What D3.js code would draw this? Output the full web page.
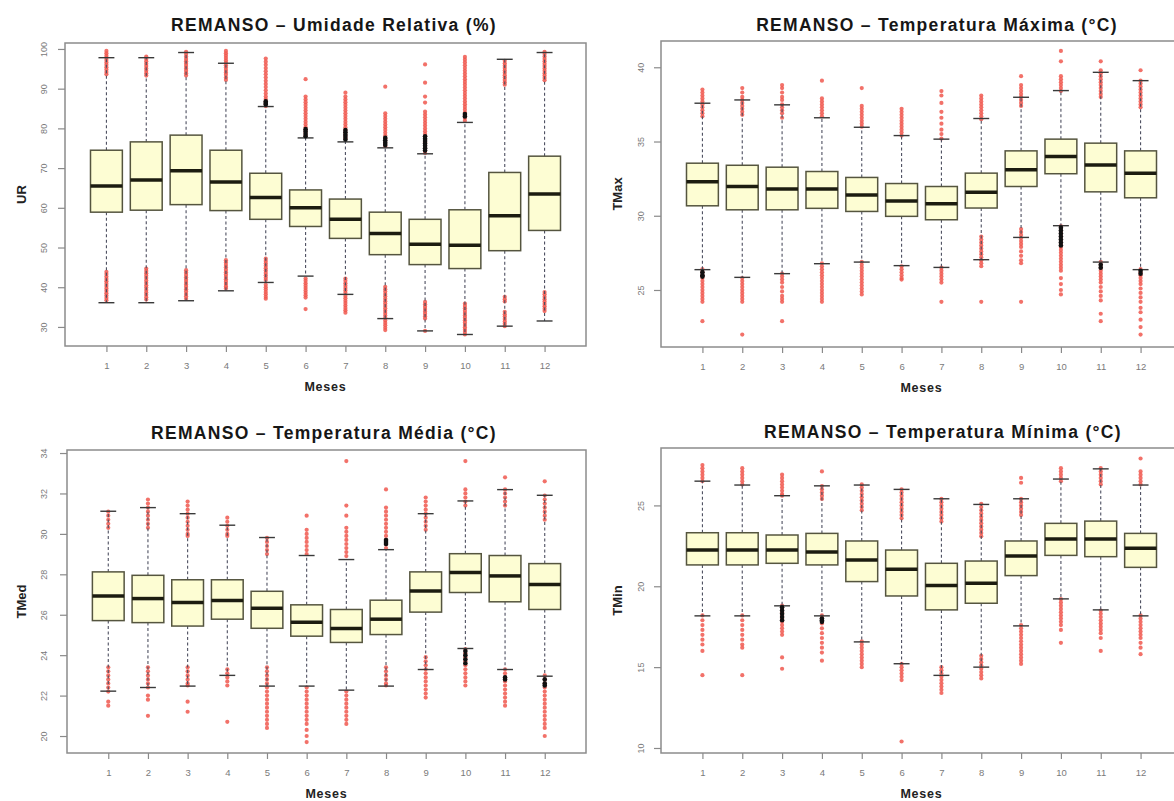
<!DOCTYPE html>
<html>
<head>
<meta charset="utf-8">
<script src="https://cdn.jsdelivr.net/npm/d3@7"></script>
<style>
  body { margin: 0; background: #ffffff; }
  svg { display: block; }
</style>
</head>
<body>
<svg id="chart" width="1174" height="801"></svg>
<script>
// ---------------- DATA ----------------
const months = [1, 2, 3, 4, 5, 6, 7, 8, 9, 10, 11, 12];

const titles = [
  "REMANSO – Umidade Relativa (%)",
  "REMANSO – Temperatura Máxima (°C)",
  "REMANSO – Temperatura Média (°C)",
  "REMANSO – Temperatura Mínima (°C)"
];
const yLabels = ["UR", "TMax", "TMed", "TMin"];
const xLabel = "Meses";

const urTicks = [30, 40, 50, 60, 70, 80, 90, 100];
const tmaxTicks = [25, 30, 35, 40];
const tmedTicks = [20, 22, 24, 26, 28, 30, 32, 34];
const tminTicks = [10, 15, 20, 25];

// UR
const urLo  = [36.1, 36.1, 36.6, 39.1, 41.2, 42.8, 38.2, 32.1, 29.0, 28.1, 30.2, 31.5];
const urQ1  = [58.9, 59.4, 60.8, 59.3, 57.1, 55.3, 52.3, 48.2, 45.7, 44.7, 49.2, 54.3];
const urMed = [65.5, 67.0, 69.3, 66.5, 62.6, 60.0, 57.1, 53.5, 50.8, 50.6, 58.0, 63.5];
const urQ3  = [74.5, 76.6, 78.3, 74.5, 68.7, 64.5, 62.2, 58.9, 57.1, 59.5, 68.9, 73.0];
const urHi  = [97.8, 97.8, 99.1, 96.4, 85.5, 77.6, 76.6, 75.1, 73.6, 81.5, 97.4, 99.1];
const urOut = [
  [99.5, 98.9, 98.3, 97.8, 97.2, 96.6, 96.0, 95.4, 94.8, 94.2, 93.6, 43.9, 43.3, 42.7, 42.1, 41.5, 40.9, 40.3, 39.7, 39.1, 38.5, 37.9, 37.3, 36.7],
  [98.1, 97.5, 96.9, 96.3, 95.7, 95.1, 94.5, 93.9, 93.3, 44.7, 44.1, 43.5, 42.9, 42.3, 41.7, 41.1, 40.5, 39.9, 39.3, 38.7, 38.1, 37.5, 36.9],
  [99.3, 98.7, 98.1, 97.5, 96.9, 96.3, 95.7, 95.1, 94.5, 93.9, 93.3, 44.3, 43.7, 43.1, 42.5, 41.9, 41.3, 40.7, 40.1, 39.5, 38.9, 38.3, 37.7, 37.1],
  [99.5, 98.9, 98.3, 97.7, 97.1, 96.5, 95.9, 95.3, 94.7, 94.1, 93.5, 92.8, 92.2, 46.8, 46.2, 45.6, 45.0, 44.4, 43.8, 43.2, 42.6, 42.0, 41.4, 40.8, 40.2, 39.7],
  [97.6, 96.8, 96.0, 95.2, 94.4, 93.6, 92.8, 92.0, 91.2, 90.4, 89.6, 88.8, 88.0, 87.4, 86.8, 86.2, 85.6, 47.2, 46.6, 46.0, 45.4, 44.8, 44.2, 43.6, 43.0, 42.4, 41.8, 40.6, 40.0, 39.4, 38.8, 38.2, 37.6, 37.1],
  [92.4, 88.0, 87.3, 86.6, 85.9, 85.2, 84.5, 83.8, 83.1, 82.4, 81.7, 81.0, 80.3, 79.6, 78.9, 78.2, 42.2, 41.6, 41.0, 40.4, 39.8, 39.2, 38.6, 38.0, 37.4, 34.5],
  [89.0, 88.0, 87.3, 86.6, 85.9, 85.2, 84.5, 83.8, 83.1, 82.4, 81.7, 81.0, 80.3, 79.6, 78.9, 78.2, 77.5, 42.2, 41.6, 41.0, 40.4, 39.8, 39.2, 38.6, 37.8, 37.2, 36.6, 36.0, 35.4, 34.8, 34.2, 33.6],
  [90.5, 83.8, 83.1, 82.4, 81.7, 81.0, 80.3, 79.6, 78.9, 78.2, 77.5, 76.8, 76.1, 75.5, 40.1, 39.5, 38.9, 38.3, 37.7, 37.1, 36.5, 35.9, 35.3, 34.7, 34.1, 33.5, 32.9, 32.3, 31.6, 31.0, 30.4, 29.8, 29.2],
  [96.1, 91.5, 88.0, 86.5, 84.2, 83.5, 82.8, 82.1, 81.4, 80.7, 80.0, 79.3, 78.6, 77.9, 77.2, 76.5, 75.8, 75.1, 74.4, 73.8, 36.3, 35.7, 35.1, 34.5, 33.9, 33.3, 32.7, 32.1, 29.0],
  [98.0, 97.3, 96.6, 95.9, 95.2, 94.5, 93.8, 93.1, 92.4, 91.7, 91.0, 90.3, 89.6, 88.9, 88.2, 87.5, 86.8, 86.1, 85.4, 84.7, 84.0, 83.3, 82.6, 81.9, 35.9, 35.3, 34.7, 34.1, 33.5, 32.9, 32.3, 31.7, 31.1, 30.5, 29.9, 29.3, 28.7, 28.1],
  [97.0, 96.4, 95.8, 95.2, 94.6, 94.0, 93.4, 92.8, 92.2, 91.6, 91.0, 37.6, 37.0, 36.4, 33.8, 33.2, 32.6, 32.0, 31.4, 30.8, 30.2],
  [99.3, 98.7, 98.1, 97.5, 96.9, 96.3, 95.7, 95.1, 94.5, 93.9, 93.3, 92.7, 92.1, 38.8, 38.2, 37.6, 37.0, 36.4, 35.8, 35.2, 34.6, 34.0]
];
const urDark = [[], [], [], [], [86.8, 86.4, 86.0], [79.8, 79.2, 78.6, 78.0], [79.6, 79.0, 78.4, 77.8, 77.2], [77.6, 77.0, 76.4, 75.8], [78.0, 77.4, 76.8, 76.2, 75.6, 75.0, 74.4], [83.6, 83.0], [], []];

// TMax
const tmaxLo  = [26.37, 25.85, 26.1, 26.77, 26.88, 26.64, 26.52, 27.04, 28.54, 29.33, 26.88, 26.37];
const tmaxQ1  = [30.67, 30.4, 30.4, 30.5, 30.29, 29.96, 29.73, 30.52, 31.97, 32.83, 31.61, 31.21];
const tmaxMed = [32.29, 31.97, 31.8, 31.8, 31.39, 30.99, 30.8, 31.59, 33.09, 33.99, 33.41, 32.87];
const tmaxQ3  = [33.54, 33.4, 33.27, 32.98, 32.58, 32.17, 31.97, 32.87, 34.37, 35.16, 34.89, 34.37];
const tmaxHi  = [37.58, 37.8, 37.47, 36.6, 35.96, 35.4, 35.16, 36.55, 37.98, 38.43, 39.66, 39.1];
const tmaxOut = [
  [38.5, 38.3, 38.1, 37.9, 37.7, 37.5, 37.3, 37.1, 36.9, 36.7, 26.4, 26.2, 26.0, 25.8, 25.6, 25.4, 25.2, 25.0, 24.8, 24.6, 24.4, 24.2, 22.9],
  [38.6, 38.3, 38.0, 37.8, 37.6, 37.4, 37.2, 37.0, 36.8, 25.8, 25.6, 25.4, 25.2, 25.0, 24.8, 24.6, 24.4, 24.2, 22.0],
  [38.8, 38.6, 38.3, 38.0, 37.8, 37.5, 37.3, 37.1, 36.9, 36.6, 26.1, 25.9, 25.7, 25.5, 25.2, 24.9, 24.6, 24.4, 24.2, 22.9],
  [39.1, 37.9, 37.7, 37.5, 37.3, 37.1, 36.9, 36.7, 26.8, 26.6, 26.4, 26.2, 26.0, 25.8, 25.6, 25.4, 25.2, 25.0, 24.8, 24.6, 24.4, 24.2],
  [38.6, 37.4, 37.2, 37.0, 36.8, 36.6, 36.4, 36.2, 36.0, 26.9, 26.7, 26.5, 26.3, 26.1, 25.9, 25.7, 25.5, 25.3, 25.1, 24.9, 24.7],
  [37.2, 37.0, 36.8, 36.6, 36.4, 36.2, 36.0, 35.8, 35.6, 35.4, 26.6, 26.4, 26.2, 26.0, 25.8, 25.7],
  [38.4, 38.1, 37.6, 37.0, 36.6, 36.2, 35.8, 35.5, 35.2, 26.5, 26.3, 26.1, 25.9, 25.7, 25.5, 24.2],
  [38.1, 37.9, 37.7, 37.5, 37.3, 37.1, 36.9, 36.7, 36.5, 28.6, 28.4, 28.2, 28.0, 27.8, 27.6, 27.4, 27.2, 27.0, 26.8, 26.6, 24.2],
  [39.4, 38.8, 38.6, 38.4, 38.2, 38.0, 37.8, 37.6, 37.4, 29.1, 28.9, 28.7, 28.5, 28.3, 28.1, 27.9, 27.6, 27.3, 27.0, 26.8, 24.2],
  [41.1, 40.4, 39.4, 39.2, 39.0, 38.8, 38.6, 38.4, 29.3, 29.1, 28.9, 28.7, 28.5, 28.3, 28.1, 27.9, 27.7, 27.5, 27.3, 27.1, 26.9, 26.7, 26.5, 26.3, 25.8, 25.4, 25.0, 24.7],
  [40.4, 39.8, 39.6, 39.4, 39.2, 39.0, 38.8, 38.6, 38.4, 38.2, 38.0, 26.9, 26.7, 26.5, 26.3, 26.1, 25.9, 25.7, 25.5, 25.2, 24.9, 24.6, 24.3, 23.4, 22.9],
  [39.8, 39.1, 38.9, 38.7, 38.5, 38.3, 38.1, 37.9, 37.7, 37.5, 37.3, 26.4, 26.2, 26.0, 25.8, 25.6, 25.4, 25.1, 24.8, 24.5, 24.2, 23.8, 23.5, 23.0, 22.5, 22.0]
];
const tmaxDark = [[26.2, 26.0, 25.9], [], [], [], [], [], [], [], [], [29.2, 29.0, 28.8, 28.6, 28.4, 28.2, 28.0], [26.7, 26.5], [26.3, 26.1]];

// TMed
const tmedLo  = [22.22, 22.4, 22.47, 23.0, 22.47, 22.47, 22.27, 22.47, 23.29, 24.33, 23.29, 22.96];
const tmedQ1  = [25.71, 25.61, 25.44, 25.78, 25.33, 24.94, 24.63, 25.02, 26.13, 27.1, 26.64, 26.26];
const tmedMed = [26.93, 26.8, 26.6, 26.7, 26.32, 25.63, 25.32, 25.78, 27.18, 28.09, 27.92, 27.49];
const tmedQ3  = [28.12, 27.95, 27.73, 27.73, 27.16, 26.49, 26.26, 26.72, 28.12, 29.02, 28.93, 28.53];
const tmedHi  = [31.12, 31.3, 31.0, 30.43, 29.82, 28.93, 28.73, 29.22, 31.0, 31.63, 32.19, 31.91];
const tmedOut = [
  [31.1, 30.9, 30.7, 30.5, 30.3, 23.4, 23.2, 23.0, 22.8, 22.6, 22.4, 22.2, 21.7, 21.5],
  [31.7, 31.5, 31.3, 31.1, 30.9, 30.7, 30.5, 30.3, 23.4, 23.2, 23.0, 22.8, 22.6, 22.4, 22.0, 21.8, 21.0],
  [31.6, 31.4, 31.2, 31.0, 30.8, 30.6, 30.4, 30.2, 30.0, 29.9, 23.4, 23.2, 23.0, 22.8, 22.6, 22.5, 21.7, 21.2],
  [30.8, 30.6, 30.4, 30.2, 30.0, 29.9, 23.3, 23.1, 22.9, 22.7, 22.5, 20.7],
  [29.8, 29.6, 29.4, 29.2, 29.0, 23.4, 23.2, 23.0, 22.8, 22.6, 22.4, 22.2, 22.0, 21.8, 21.6, 21.4, 21.2, 21.0, 20.8, 20.6, 20.4],
  [30.9, 30.2, 30.0, 29.8, 29.6, 29.4, 29.2, 29.0, 22.4, 22.2, 22.0, 21.8, 21.6, 21.4, 21.2, 21.0, 20.8, 20.6, 20.3, 20.0, 19.7],
  [33.6, 31.4, 30.9, 30.3, 30.1, 29.9, 29.7, 29.5, 29.3, 29.1, 28.9, 22.2, 22.0, 21.8, 21.6, 21.4, 21.2, 21.0, 20.8, 20.6],
  [32.2, 31.3, 31.1, 30.9, 30.7, 30.5, 30.3, 30.1, 29.9, 29.7, 29.5, 29.3, 23.4, 23.2, 23.0, 22.8, 22.6, 22.5],
  [31.8, 31.6, 31.4, 31.2, 31.0, 30.8, 30.6, 30.4, 30.2, 23.9, 23.7, 23.5, 23.3, 23.1, 22.9, 22.7, 22.5, 22.3, 22.1, 21.9],
  [33.6, 32.2, 32.0, 31.8, 31.6, 31.4, 24.3, 24.1, 23.9, 23.7, 23.5, 23.3, 23.1, 22.9, 22.7, 22.5],
  [32.8, 32.2, 32.0, 31.8, 31.6, 31.4, 23.3, 23.1, 22.9, 22.7, 22.5, 22.3, 22.1, 21.9, 21.7, 21.5],
  [32.6, 31.9, 31.7, 31.5, 31.3, 31.1, 30.9, 30.7, 23.0, 22.8, 22.6, 22.4, 22.2, 22.0, 21.8, 21.6, 21.4, 21.2, 21.0, 20.8, 20.6, 20.4, 20.0]
];
const tmedDark = [[], [], [], [], [], [], [], [29.7, 29.6, 29.5], [], [24.2, 24.0, 23.8, 23.6], [22.9, 22.8], [22.8, 22.6, 22.5]];

// TMin
const tminLo  = [18.17, 18.17, 18.79, 18.17, 16.56, 15.21, 14.49, 15.0, 17.55, 19.22, 18.54, 18.17];
const tminQ1  = [21.32, 21.32, 21.42, 21.32, 20.29, 19.4, 18.54, 18.95, 20.66, 21.91, 21.83, 21.17];
const tminMed = [22.24, 22.24, 22.24, 22.12, 21.63, 21.05, 20.04, 20.19, 21.87, 22.92, 22.92, 22.35];
const tminQ3  = [23.31, 23.31, 23.17, 23.27, 22.8, 22.24, 21.42, 21.56, 22.8, 23.89, 24.03, 23.27];
const tminHi  = [26.5, 26.26, 25.6, 26.21, 26.26, 25.99, 25.41, 25.06, 25.41, 26.63, 27.26, 26.26];
const tminOut = [
  [27.5, 27.3, 27.1, 26.9, 26.7, 26.5, 18.2, 17.9, 17.6, 17.3, 17.0, 16.7, 16.4, 16.0, 14.5],
  [27.3, 27.1, 26.9, 26.7, 26.5, 26.3, 18.2, 17.9, 17.6, 17.3, 17.0, 16.7, 16.4, 16.2, 14.5],
  [26.9, 26.7, 26.5, 26.3, 26.1, 25.9, 25.7, 25.6, 18.8, 18.6, 18.4, 18.2, 18.0, 17.8, 17.6, 17.4, 17.2, 17.0, 15.6, 14.9],
  [27.1, 26.2, 26.0, 25.8, 25.6, 25.4, 18.2, 18.0, 17.7, 17.4, 17.1, 16.8, 16.5, 16.2, 15.9, 15.4],
  [26.3, 26.1, 25.9, 25.7, 25.5, 25.3, 25.1, 24.9, 24.7, 16.6, 16.4, 16.2, 16.0, 15.8, 15.6, 15.4, 15.2, 15.0],
  [26.0, 25.8, 25.6, 25.4, 25.2, 25.0, 24.8, 24.6, 24.4, 24.2, 15.2, 15.0, 14.8, 14.6, 14.4, 14.2, 10.4],
  [25.4, 25.2, 25.0, 24.8, 24.6, 24.4, 24.2, 24.0, 15.0, 14.8, 14.6, 14.4, 14.2, 14.0, 13.8, 13.6, 13.4],
  [25.1, 24.9, 24.7, 24.5, 24.3, 24.1, 23.9, 23.7, 23.5, 23.3, 23.1, 15.7, 15.5, 15.3, 15.1, 14.9, 14.7, 14.5, 14.3],
  [26.7, 26.4, 25.4, 25.2, 25.0, 24.8, 24.6, 24.4, 17.6, 17.4, 17.2, 17.0, 16.8, 16.6, 16.4, 16.2, 16.0, 15.8, 15.6, 15.4, 15.2],
  [27.3, 27.1, 26.9, 26.7, 26.5, 19.2, 19.0, 18.8, 18.6, 18.4, 18.2, 18.0, 17.8, 17.6, 17.3, 16.5],
  [27.3, 27.1, 26.9, 26.7, 26.5, 26.3, 18.5, 18.3, 18.1, 17.9, 17.7, 17.5, 17.3, 17.1, 16.8, 16.0],
  [27.9, 27.1, 26.9, 26.7, 26.5, 26.3, 18.2, 18.0, 17.8, 17.6, 17.4, 17.2, 17.0, 16.8, 16.5, 16.2, 15.8]
];
const tminDark = [[], [], [18.7, 18.5, 18.3, 18.1, 17.9], [18.0, 17.9, 17.8], [], [], [], [], [], [], [], []];

// ---------------- LAYOUT ----------------
const panels = [
  { title: titles[0], ylab: yLabels[0], ticks: urTicks, lo: urLo, q1: urQ1, med: urMed, q3: urQ3, hi: urHi, out: urOut, dark: urDark,
    left: 65, right: 586, top: 43, bottom: 346, ydom: [25.2, 101.5], titleX: 334, titleY: 31, ylabX: 21, ytX: 44 },
  { title: titles[1], ylab: yLabels[1], ticks: tmaxTicks, lo: tmaxLo, q1: tmaxQ1, med: tmaxMed, q3: tmaxQ3, hi: tmaxHi, out: tmaxOut, dark: tmaxDark,
    left: 661, right: 1182, top: 41, bottom: 347, ydom: [21.16, 41.77], titleX: 937, titleY: 31, ylabX: 617, ytX: 641 },
  { title: titles[2], ylab: yLabels[2], ticks: tmedTicks, lo: tmedLo, q1: tmedQ1, med: tmedMed, q3: tmedQ3, hi: tmedHi, out: tmedOut, dark: tmedDark,
    left: 67, right: 586, top: 450, bottom: 753, ydom: [19.16, 34.15], titleX: 324, titleY: 439, ylabX: 21, ytX: 44 },
  { title: titles[3], ylab: yLabels[3], ticks: tminTicks, lo: tminLo, q1: tminQ1, med: tminMed, q3: tminQ3, hi: tminHi, out: tminOut, dark: tminDark,
    left: 661, right: 1182, top: 448, bottom: 753, ydom: [9.69, 28.55], titleX: 943, titleY: 438, ylabX: 617, ytX: 641 }
];

const svg = d3.select("#chart");
const FONT = "'Liberation Sans', Arial, sans-serif";

panels.forEach(p => {
  const g = svg.append("g");
  const x = d3.scaleLinear().domain([-0.04, 13.04]).range([p.left, p.right]);
  const y = d3.scaleLinear().domain(p.ydom).range([p.bottom, p.top]);
  const unit = x(1) - x(0);
  const bw = unit * 0.8;
  const cw = unit * 0.4;
  const plotCx = (p.left + p.right) / 2;

  // title
  g.append("text")
    .attr("x", p.titleX).attr("y", p.titleY)
    .attr("text-anchor", "middle")
    .style("font-family", FONT).style("font-weight", "bold")
    .style("font-size", "17.5px").style("letter-spacing", "1.3px")
    .attr("fill", "#161616")
    .text(p.title);

  // frame
  g.append("rect")
    .attr("x", p.left).attr("y", p.top)
    .attr("width", p.right - p.left).attr("height", p.bottom - p.top)
    .attr("fill", "none").attr("stroke", "#8c8c8c").attr("stroke-width", 1.5);

  // y axis
  const yAxis = d3.axisLeft(y).tickValues(p.ticks).tickSize(7).tickFormat(d3.format("d"));
  const ya = g.append("g").attr("transform", `translate(${p.left},0)`).call(yAxis);
  ya.select(".domain").remove();
  ya.selectAll(".tick line").attr("stroke", "#8a8a8a").attr("stroke-width", 1.2);
  ya.selectAll(".tick text")
    .attr("x", null).attr("dy", null)
    .attr("transform", `translate(${p.ytX - p.left},0) rotate(-90)`)
    .attr("text-anchor", "middle").attr("dy", "0.35em")
    .style("font-family", FONT).style("font-size", "9px").attr("fill", "#7a7a7a");

  // x axis
  const xAxis = d3.axisBottom(x).tickValues(months).tickSize(6).tickFormat(d3.format("d"));
  const xa = g.append("g").attr("transform", `translate(0,${p.bottom})`).call(xAxis);
  xa.select(".domain").remove();
  xa.selectAll(".tick line").attr("stroke", "#8a8a8a").attr("stroke-width", 1.2);
  xa.selectAll(".tick text").attr("y", 16)
    .style("font-family", FONT).style("font-size", "9.5px").attr("fill", "#7a7a7a");

  // axis labels
  g.append("text")
    .attr("x", plotCx).attr("y", p.bottom + 45)
    .attr("text-anchor", "middle")
    .style("font-family", FONT).style("font-weight", "bold").style("font-size", "12.5px")
    .style("letter-spacing", "0.8px")
    .attr("fill", "#222").text(xLabel);
  g.append("text")
    .attr("transform", `translate(${p.ylabX},${(p.top + p.bottom) / 2}) rotate(-90)`)
    .attr("text-anchor", "middle").attr("dy", "0.35em")
    .style("font-family", FONT).style("font-weight", "bold").style("font-size", "13px")
    .attr("fill", "#222").text(p.ylab);

  const data = months.map((m, i) => ({ m, lo: p.lo[i], q1: p.q1[i], med: p.med[i], q3: p.q3[i], hi: p.hi[i], out: p.out[i], dark: p.dark[i] }));

  // outliers (red)
  const outPts = [];
  data.forEach(d => d.out.forEach(v => outPts.push({ m: d.m, v })));
  g.append("g").selectAll("circle").data(outPts).join("circle")
    .attr("cx", d => x(d.m)).attr("cy", d => y(d.v)).attr("r", 2.1)
    .attr("fill", "#f0584f").attr("fill-opacity", 0.85);

  // whiskers
  const wg = g.append("g");
  wg.selectAll("line.up").data(data).join("line")
    .attr("x1", d => x(d.m)).attr("x2", d => x(d.m))
    .attr("y1", d => y(d.q3)).attr("y2", d => y(d.hi))
    .attr("stroke", "#4d4f60").attr("stroke-width", 1.1).attr("stroke-dasharray", "3,2.5");
  wg.selectAll("line.dn").data(data).join("line")
    .attr("x1", d => x(d.m)).attr("x2", d => x(d.m))
    .attr("y1", d => y(d.q1)).attr("y2", d => y(d.lo))
    .attr("stroke", "#4d4f60").attr("stroke-width", 1.1).attr("stroke-dasharray", "3,2.5");
  // caps
  ["hi", "lo"].forEach(k => {
    wg.selectAll("line.cap" + k).data(data).join("line")
      .attr("x1", d => x(d.m) - cw / 2).attr("x2", d => x(d.m) + cw / 2)
      .attr("y1", d => y(d[k])).attr("y2", d => y(d[k]))
      .attr("stroke", "#3a3a3a").attr("stroke-width", 1.4);
  });

  // boxes
  g.append("g").selectAll("rect").data(data).join("rect")
    .attr("x", d => x(d.m) - bw / 2).attr("width", bw)
    .attr("y", d => y(d.q3)).attr("height", d => y(d.q1) - y(d.q3))
    .attr("fill", "#fdfdd3").attr("stroke", "#55553f").attr("stroke-width", 1.5);
  // medians
  g.append("g").selectAll("line").data(data).join("line")
    .attr("x1", d => x(d.m) - bw / 2).attr("x2", d => x(d.m) + bw / 2)
    .attr("y1", d => y(d.med)).attr("y2", d => y(d.med))
    .attr("stroke", "#1c1c10").attr("stroke-width", 3.5);

  // dense (dark) outlier clumps
  const darkPts = [];
  data.forEach(d => d.dark.forEach(v => darkPts.push({ m: d.m, v })));
  g.append("g").selectAll("circle").data(darkPts).join("circle")
    .attr("cx", d => x(d.m)).attr("cy", d => y(d.v)).attr("r", 2.3)
    .attr("fill", "#111");
});
</script>
</body>
</html>
